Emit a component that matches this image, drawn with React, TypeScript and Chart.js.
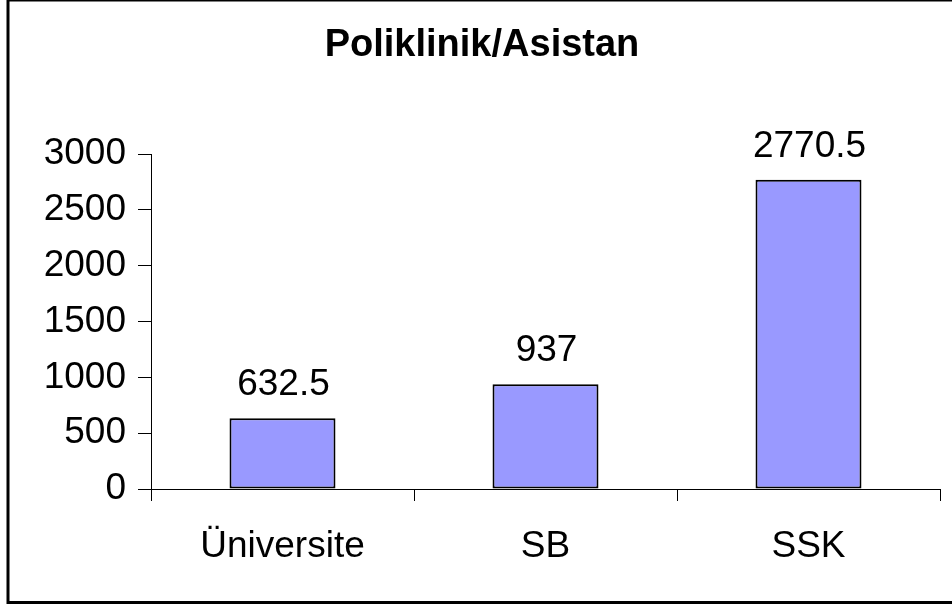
import React, { useEffect, useRef } from 'react';
import { Chart, registerables } from 'chart.js';

Chart.register(...registerables);

const TITLE = 'Poliklinik/Asistan';
const categories = ['Üniversite', 'SB', 'SSK'];
const values = [632.5, 937, 2770.5];
const valueLabels = ['632.5', '937', '2770.5'];
const yMin = 0;
const yMax = 3000;
const yStep = 500;

const FONT = '"Liberation Sans", Arial, Helvetica, sans-serif';

export default function App() {
  const ref = useRef<HTMLCanvasElement | null>(null);

  useEffect(() => {
    document.body.style.margin = '0';
    const canvas = ref.current;
    if (!canvas) return;

    const framePlugin = {
      id: 'frame',
      beforeDraw(chart: any) {
        const ctx = chart.ctx as CanvasRenderingContext2D;
        ctx.save();
        ctx.fillStyle = '#ffffff';
        ctx.fillRect(0, 0, chart.width, chart.height);
        ctx.strokeStyle = '#000000';
        ctx.lineWidth = 3;
        ctx.strokeRect(8, 0, 1000, 602.5);
        ctx.fillStyle = '#000000';
        ctx.font = `bold 38px ${FONT}`;
        ctx.textAlign = 'center';
        ctx.textBaseline = 'alphabetic';
        ctx.fillText(TITLE, 482, 56);
        ctx.restore();
      },
      afterDatasetsDraw(chart: any) {
        const ctx = chart.ctx as CanvasRenderingContext2D;
        const meta = chart.getDatasetMeta(0);
        ctx.save();
        ctx.fillStyle = '#000000';
        ctx.font = `37px ${FONT}`;
        ctx.textAlign = 'center';
        ctx.textBaseline = 'alphabetic';
        meta.data.forEach((bar: any, i: number) => {
          ctx.fillText(valueLabels[i], bar.x + 1, bar.y - 23);
        });
        ctx.restore();
      },
    };

    const chart = new Chart(canvas, {
      type: 'bar',
      data: {
        labels: categories,
        datasets: [
          {
            data: values,
            backgroundColor: '#9999FF',
            borderColor: '#000000',
            borderWidth: 2,
            borderSkipped: false,
            categoryPercentage: 1,
            barPercentage: 0.403,
          },
        ],
      },
      options: {
        responsive: false,
        animation: false,
        devicePixelRatio: 1,
        layout: { padding: { top: 154, right: 12, bottom: 0, left: 0 } },
        plugins: {
          legend: { display: false },
          title: { display: false },
          tooltip: { enabled: false },
        },
        scales: {
          x: {
            type: 'category',
            offset: true,
            grid: {
              offset: true,
              drawOnChartArea: false,
              drawTicks: true,
              tickLength: 12,
              color: '#000000',
              lineWidth: 1,
            },
            border: { display: true, color: '#000000', width: 1 },
            ticks: {
              color: '#000000',
              font: { family: FONT, size: 37 },
              padding: 24,
              maxRotation: 0,
            },
            afterFit(scale: any) {
              scale.height = 118;
            },
          },
          y: {
            min: yMin,
            max: yMax,
            grid: {
              drawOnChartArea: false,
              drawTicks: true,
              tickLength: 13,
              color: '#000000',
              lineWidth: 1,
            },
            border: { display: true, color: '#000000', width: 1 },
            ticks: {
              stepSize: yStep,
              color: '#000000',
              font: { family: FONT, size: 37 },
              padding: 12,
              callback: (v: any) => String(v),
            },
            afterFit(scale: any) {
              scale.width = 151;
            },
          },
        },
      },
      plugins: [framePlugin],
    });

    return () => {
      chart.destroy();
    };
  }, []);

  return (
    <div style={{ width: 952, height: 607 }}>
      <canvas ref={ref} width={952} height={607} style={{ display: 'block' }} />
    </div>
  );
}
